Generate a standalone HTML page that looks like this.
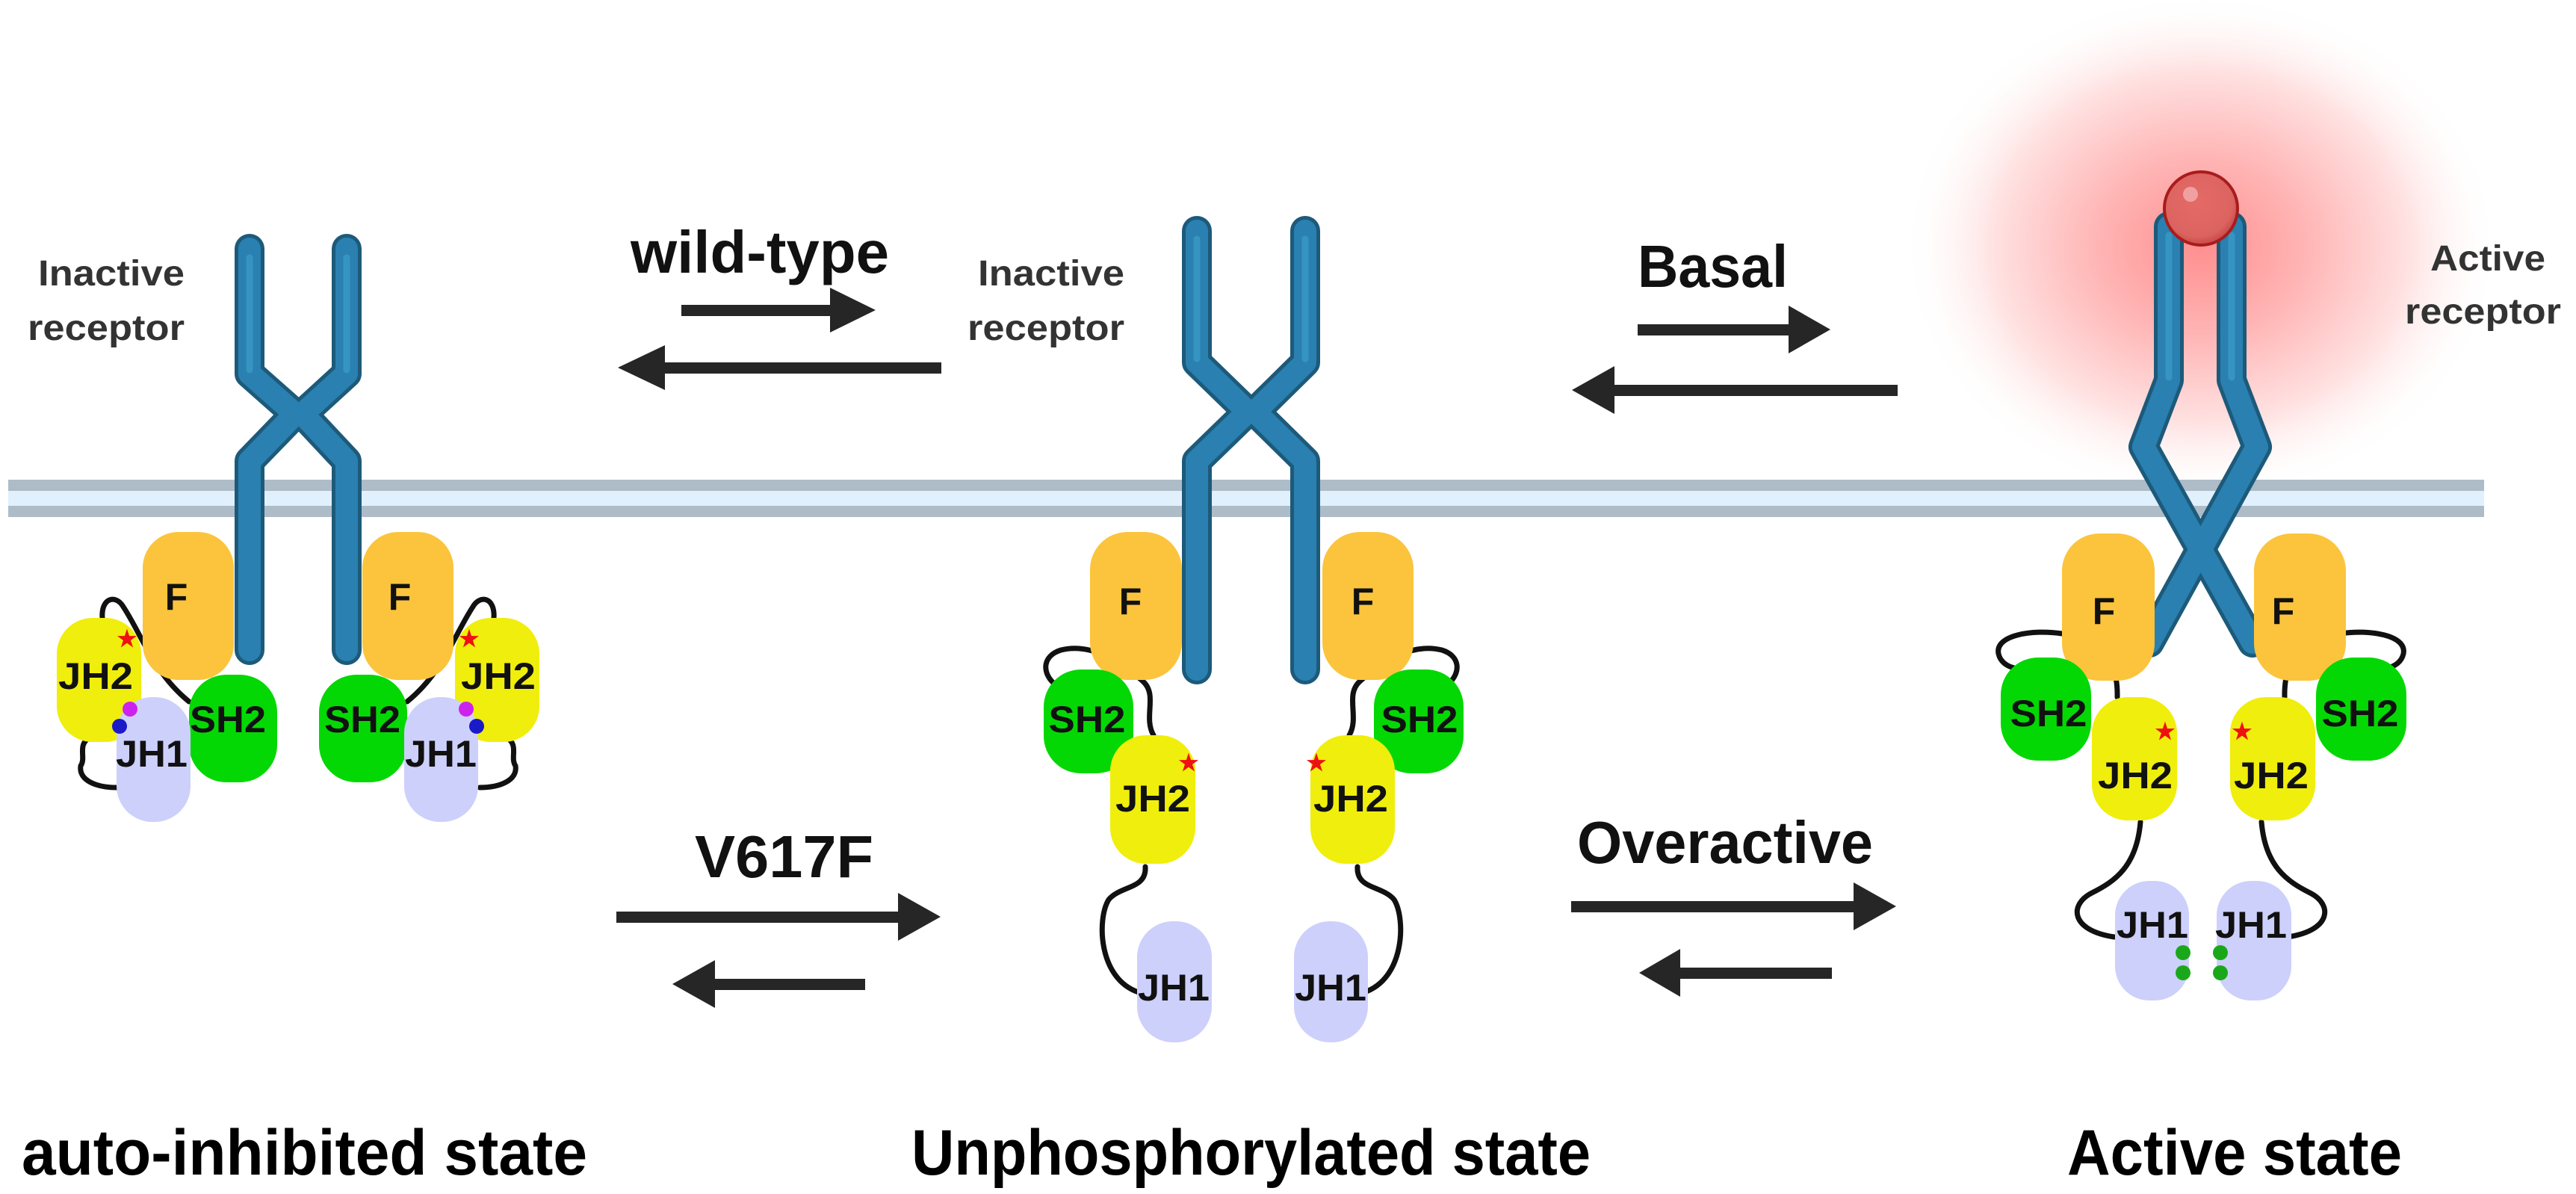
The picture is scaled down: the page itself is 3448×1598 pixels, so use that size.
<!DOCTYPE html>
<html><head><meta charset="utf-8"><style>html,body{margin:0;padding:0;background:#fff}svg{display:block}</style></head>
<body>
<svg width="3448" height="1598" viewBox="0 0 3448 1598" xmlns="http://www.w3.org/2000/svg" font-family="Liberation Sans, sans-serif" font-weight="bold">
<defs>
<radialGradient id="glow" cx="2946" cy="330" r="400" gradientUnits="userSpaceOnUse" gradientTransform="translate(2946 330) scale(1 0.85) translate(-2946 -330)">
<stop offset="0" stop-color="#ff8f8f"/><stop offset="0.35" stop-color="#ffb5b5"/><stop offset="0.7" stop-color="#ffe2e2"/><stop offset="1" stop-color="#fff" stop-opacity="0"/>
</radialGradient>
<radialGradient id="ball" cx="0.45" cy="0.4" r="0.6"><stop offset="0" stop-color="#e46a66"/><stop offset="0.8" stop-color="#dc6460"/><stop offset="1" stop-color="#c84a48"/></radialGradient>
</defs>
<rect width="3448" height="1598" fill="#fff"/>
<ellipse cx="2946" cy="330" rx="420" ry="360" fill="url(#glow)"/>

<!-- membrane -->
<rect x="11" y="642" width="3314" height="50" fill="#aebcc8"/>
<rect x="11" y="657" width="3314" height="20" fill="#e0f0fc"/>

<!-- tubes -->
<g fill="none" stroke-linecap="round" stroke-linejoin="round">
<g stroke="#1d5a7a" stroke-width="40">
<path d="M334,333 V500 L395,554 L334,617 V870"/><path d="M464,333 V500 L405,554 L464,617 V870"/>
<path d="M1602,309 V485 L1670,551 L1602,617 V896"/><path d="M1747,309 V485 L1680,551 L1747,617 V896"/>
<path d="M2903,303 V509 L2869,598 L3015,860"/><path d="M2987,303 V509 L3021,598 L2877,860"/>
</g>
<g stroke="#2a80b0" stroke-width="30">
<path d="M334,333 V500 L395,554 L334,617 V870"/><path d="M464,333 V500 L405,554 L464,617 V870"/>
<path d="M1602,309 V485 L1670,551 L1602,617 V896"/><path d="M1747,309 V485 L1680,551 L1747,617 V896"/>
<path d="M2903,303 V509 L2869,598 L3015,860"/><path d="M2987,303 V509 L3021,598 L2877,860"/>
</g>
<g stroke="#3a9ac4" stroke-width="9" opacity="0.8">
<path d="M334,345 V495"/><path d="M464,345 V495"/><path d="M1602,320 V480"/><path d="M1747,320 V480"/>
<path d="M2903,315 V505"/><path d="M2987,315 V505"/>
</g>
</g>
<circle cx="2946" cy="279" r="49" fill="url(#ball)" stroke="#a81c1c" stroke-width="4"/>
<circle cx="2932" cy="260" r="10" fill="#f0a0a0"/>

<!-- linkers -->
<g fill="none" stroke="#111" stroke-width="7" stroke-linecap="round">
<path d="M137,827 C135,800 155,795 165,812 C190,850 205,900 253,939"/>
<path d="M661,827 C663,800 643,795 633,812 C608,850 593,900 545,939"/>
<path d="M116,990 C105,1000 115,1015 108,1025 C105,1045 130,1054 156,1054"/>
<path d="M682,990 C693,1000 683,1015 690,1025 C693,1045 668,1054 642,1054"/>
<path d="M1544,984 C1530,960 1550,930 1530,912 C1500,885 1460,860 1420,870 C1395,878 1395,900 1410,914"/>
<path d="M1806,984 C1820,960 1800,930 1820,912 C1850,885 1890,860 1930,870 C1955,878 1955,900 1940,914"/>
<path d="M1533,1160 C1535,1190 1500,1185 1484,1204 C1468,1230 1470,1310 1524,1328"/>
<path d="M1817,1160 C1815,1190 1850,1185 1866,1204 C1882,1230 1880,1310 1826,1328"/>
<path d="M2834,933 C2835,890 2820,860 2760,848 C2720,842 2670,850 2675,875 C2678,888 2690,893 2700,895"/>
<path d="M3058,933 C3057,890 3072,860 3132,848 C3172,842 3222,850 3217,875 C3214,888 3202,893 3192,895"/>
<path d="M2865,1100 C2860,1160 2830,1180 2800,1195 C2770,1210 2770,1245 2830,1254"/>
<path d="M3027,1100 C3032,1160 3062,1180 3092,1195 C3122,1210 3122,1245 3062,1254"/>
</g>

<!-- left complex domains -->
<rect x="191" y="712" width="122" height="198" rx="48" fill="#fbc43c"/>
<rect x="485" y="712" width="122" height="198" rx="48" fill="#fbc43c"/>
<rect x="76" y="827" width="113" height="166" rx="48" fill="#f0ee0c"/>
<rect x="609" y="827" width="113" height="166" rx="48" fill="#f0ee0c"/>
<rect x="253" y="903" width="118" height="144" rx="50" fill="#04d804"/>
<rect x="427" y="903" width="118" height="144" rx="50" fill="#04d804"/>
<rect x="156" y="933" width="99" height="167" rx="48" fill="#cdd0fb"/>
<rect x="541" y="933" width="99" height="167" rx="48" fill="#cdd0fb"/>
<circle cx="174" cy="949" r="10" fill="#cc22ee"/><circle cx="160" cy="972" r="10" fill="#1a1ac8"/>
<circle cx="624" cy="949" r="10" fill="#cc22ee"/><circle cx="638" cy="972" r="10" fill="#1a1ac8"/>

<!-- middle complex domains -->
<rect x="1459" y="712" width="123" height="198" rx="50" fill="#fbc43c"/>
<rect x="1770" y="712" width="122" height="198" rx="50" fill="#fbc43c"/>
<rect x="1397" y="896" width="120" height="139" rx="50" fill="#04d804"/>
<rect x="1839" y="896" width="120" height="139" rx="50" fill="#04d804"/>
<rect x="1486" y="984" width="114" height="172" rx="48" fill="#f0ee0c"/>
<rect x="1754" y="984" width="113" height="172" rx="48" fill="#f0ee0c"/>
<rect x="1522" y="1233" width="100" height="162" rx="48" fill="#cdd0fb"/>
<rect x="1732" y="1233" width="99" height="162" rx="48" fill="#cdd0fb"/>

<!-- active complex domains -->
<rect x="2760" y="714" width="124" height="197" rx="50" fill="#fbc43c"/>
<rect x="3017" y="714" width="123" height="197" rx="50" fill="#fbc43c"/>
<rect x="2678" y="880" width="121" height="138" rx="50" fill="#04d804"/>
<rect x="3100" y="880" width="121" height="138" rx="50" fill="#04d804"/>
<rect x="2800" y="933" width="114" height="165" rx="48" fill="#f0ee0c"/>
<rect x="2985" y="933" width="114" height="165" rx="48" fill="#f0ee0c"/>
<rect x="2831" y="1179" width="99" height="160" rx="46" fill="#cdd0fb"/>
<rect x="2967" y="1179" width="100" height="160" rx="46" fill="#cdd0fb"/>
<g fill="#1aa81a"><circle cx="2922" cy="1275" r="10"/><circle cx="2922" cy="1302" r="10"/><circle cx="2972" cy="1275" r="10"/><circle cx="2972" cy="1302" r="10"/></g>

<!-- stars -->
<g fill="#ee1111" font-size="30" text-anchor="middle">
<text x="170" y="865">★</text><text x="628" y="865">★</text>
<text x="1591" y="1031">★</text><text x="1762" y="1031">★</text>
<text x="2898" y="989">★</text><text x="3001" y="989">★</text>
</g>

<!-- domain labels -->
<g fill="#111" font-size="50" text-anchor="middle">
<text x="236" y="816">F</text><text x="535" y="816">F</text>
<text x="128" y="922" textLength="100" lengthAdjust="spacingAndGlyphs">JH2</text>
<text x="667" y="922" textLength="100" lengthAdjust="spacingAndGlyphs">JH2</text>
<text x="305" y="980" textLength="102" lengthAdjust="spacingAndGlyphs">SH2</text>
<text x="485" y="980" textLength="102" lengthAdjust="spacingAndGlyphs">SH2</text>
<text x="203" y="1026" textLength="96" lengthAdjust="spacingAndGlyphs">JH1</text>
<text x="590" y="1026" textLength="96" lengthAdjust="spacingAndGlyphs">JH1</text>

<text x="1513" y="822">F</text><text x="1824" y="822">F</text>
<text x="1455" y="980" textLength="103" lengthAdjust="spacingAndGlyphs">SH2</text>
<text x="1900" y="980" textLength="103" lengthAdjust="spacingAndGlyphs">SH2</text>
<text x="1543" y="1086" textLength="100" lengthAdjust="spacingAndGlyphs">JH2</text>
<text x="1808" y="1086" textLength="100" lengthAdjust="spacingAndGlyphs">JH2</text>
<text x="1571" y="1339" textLength="96" lengthAdjust="spacingAndGlyphs">JH1</text>
<text x="1781" y="1339" textLength="96" lengthAdjust="spacingAndGlyphs">JH1</text>

<text x="2816" y="835">F</text><text x="3056" y="835">F</text>
<text x="2742" y="972" textLength="103" lengthAdjust="spacingAndGlyphs">SH2</text>
<text x="3159" y="972" textLength="103" lengthAdjust="spacingAndGlyphs">SH2</text>
<text x="2858" y="1055" textLength="100" lengthAdjust="spacingAndGlyphs">JH2</text>
<text x="3040" y="1055" textLength="100" lengthAdjust="spacingAndGlyphs">JH2</text>
<text x="2881" y="1255" textLength="96" lengthAdjust="spacingAndGlyphs">JH1</text>
<text x="3013" y="1255" textLength="96" lengthAdjust="spacingAndGlyphs">JH1</text>
</g>

<!-- receptor labels -->
<g fill="#333" font-size="48" text-anchor="end">
<text x="247" y="382" textLength="196" lengthAdjust="spacingAndGlyphs">Inactive</text>
<text x="247" y="455" textLength="210" lengthAdjust="spacingAndGlyphs">receptor</text>
<text x="1505" y="382" textLength="196" lengthAdjust="spacingAndGlyphs">Inactive</text>
<text x="1505" y="455" textLength="210" lengthAdjust="spacingAndGlyphs">receptor</text>
<text x="3407" y="362" textLength="154" lengthAdjust="spacingAndGlyphs">Active</text>
<text x="3428" y="433" textLength="209" lengthAdjust="spacingAndGlyphs">receptor</text>
</g>

<!-- arrow labels -->
<g fill="#111" font-size="80">
<text x="844" y="365" textLength="346" lengthAdjust="spacingAndGlyphs">wild-type</text>
<text x="2192" y="384" textLength="201" lengthAdjust="spacingAndGlyphs">Basal</text>
<text x="930" y="1174" textLength="239" lengthAdjust="spacingAndGlyphs">V617F</text>
<text x="2111" y="1155" textLength="396" lengthAdjust="spacingAndGlyphs">Overactive</text>
</g>

<!-- arrows -->
<g fill="#262626">
<rect x="912" y="408" width="202" height="15"/><polygon points="1111,385 1172,415 1111,445"/>
<rect x="887" y="485" width="373" height="15"/><polygon points="890,462 827,492 890,522"/>
<rect x="2192" y="434" width="205" height="15"/><polygon points="2394,409 2450,441 2394,473"/>
<rect x="2158" y="515" width="382" height="15"/><polygon points="2161,490 2104,522 2161,554"/>
<rect x="825" y="1220" width="380" height="15"/><polygon points="1202,1195 1259,1227 1202,1259"/>
<rect x="954" y="1310" width="204" height="15"/><polygon points="957,1285 900,1317 957,1349"/>
<rect x="2103" y="1206" width="381" height="15"/><polygon points="2481,1181 2538,1213 2481,1245"/>
<rect x="2246" y="1295" width="206" height="15"/><polygon points="2249,1270 2194,1302 2249,1334"/>
</g>

<!-- state labels -->
<g fill="#000" font-size="86">
<text x="29" y="1572" textLength="757" lengthAdjust="spacingAndGlyphs">auto-inhibited  state</text>
<text x="1220" y="1572" textLength="909" lengthAdjust="spacingAndGlyphs">Unphosphorylated state</text>
<text x="2767" y="1572" textLength="448" lengthAdjust="spacingAndGlyphs">Active state</text>
</g>
</svg>
</body></html>
